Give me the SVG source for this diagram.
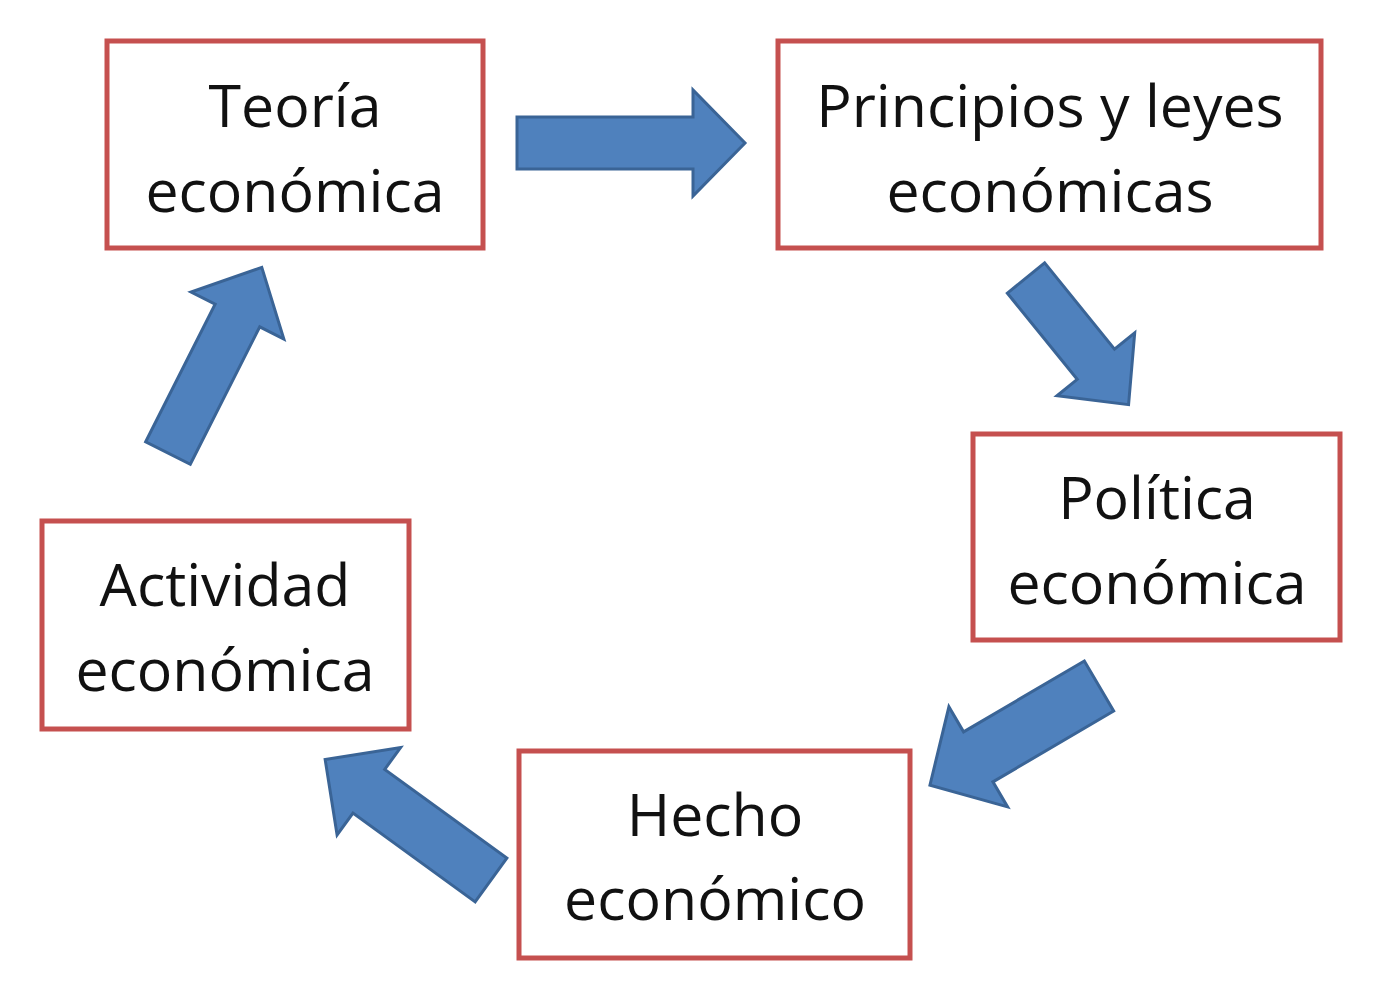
<svg xmlns="http://www.w3.org/2000/svg" width="1395" height="998" viewBox="0 0 1395 998">
<style>
.box{fill:#ffffff;stroke:#c5504f;stroke-width:5}
.lbl{font-family:"Open Sans","Liberation Sans",sans-serif;font-size:59px;fill:#111111;text-anchor:middle}
.arr{fill:#4f81bd;stroke:#3a6496;stroke-width:3;stroke-linejoin:miter}
</style>
<rect width="1395" height="998" fill="#ffffff"/>
<g id="connectors">
<polygon class="arr" transform="translate(517,143)" points="0,-26 176,-26 176,-53 228,0 176,53 176,26 0,26"/>
<polygon class="arr" transform="translate(1026,278) rotate(51)" points="0,-24 111,-24 111,-50 163,0 111,50 111,24 0,24"/>
<polygon class="arr" transform="translate(1099,686) rotate(149.6)" points="0,-29 140,-29 140,-58 196,0 140,58 140,29 0,29"/>
<polygon class="arr" transform="translate(491,880) rotate(-144)" points="0,-27 151,-27 151,-54 205,0 151,54 151,27 0,27"/>
<polygon class="arr" transform="translate(168,453) rotate(-63.2)" points="0,-25 154,-25 154,-52 208,0 154,52 154,25 0,25"/>
</g>
<g id="teoria">
<rect class="box" x="107" y="41" width="376" height="207"/>
<text class="lbl" x="295" y="127">Teoría</text>
<text class="lbl" x="295" y="212">económica</text>
</g>
<g id="principios">
<rect class="box" x="778" y="41" width="543" height="207"/>
<text class="lbl" x="1050" y="127">Principios y leyes</text>
<text class="lbl" x="1050" y="212">económicas</text>
</g>
<g id="politica">
<rect class="box" x="973" y="434" width="367" height="206"/>
<text class="lbl" x="1157" y="519">Política</text>
<text class="lbl" x="1157" y="604">económica</text>
</g>
<g id="hecho">
<rect class="box" x="519" y="751" width="391" height="207"/>
<text class="lbl" x="715" y="836">Hecho</text>
<text class="lbl" x="715" y="920">económico</text>
</g>
<g id="actividad">
<rect class="box" x="42" y="521" width="367" height="208"/>
<text class="lbl" x="225" y="606">Actividad</text>
<text class="lbl" x="225" y="691">económica</text>
</g>
</svg>
